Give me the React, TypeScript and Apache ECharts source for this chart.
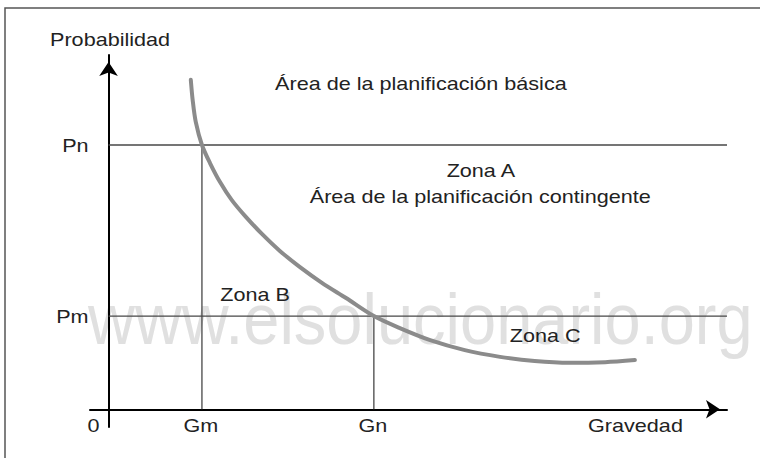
import React, { useEffect, useRef } from "react";
import * as echarts from "echarts";

// Risk curve (gravedad → probabilidad), abstract units 0..100
const curveX = [13.3, 13.6, 14.1, 15.1, 16.4, 18.0, 19.9, 22.2, 24.8, 27.7, 30.9, 34.5, 38.4, 42.9, 47.1, 52.0, 57.6, 63.3, 68.9, 74.6, 80.3, 85.1];
const curveY = [93.0, 87.3, 81.1, 74.6, 69.5, 64.2, 59.1, 54.3, 49.5, 44.7, 40.2, 35.7, 31.4, 26.3, 22.9, 19.5, 16.7, 14.8, 13.6, 13.1, 13.3, 13.9];

// Probability levels (y) and severity levels (x)
const levelNames = ["Pn", "Pm"];
const levelValues = [74.6, 26.3];
const severityNames = ["Gm", "Gn"];
const severityValues = [15.1, 42.9];

// Zone annotations (centre x, baseline y in data units)
const zoneTexts = [
  "Área de la planificación básica",
  "Zona A",
  "Área de la planificación contingente",
  "Zona B",
  "Zona C",
];
const zoneX = [50.5, 60.2, 60.1, 23.7, 70.6];
const zoneY = [90.1, 65.6, 58.2, 30.6, 18.9];

const xAxisTitle = "Gravedad";
const xAxisTitleAt = 85.2;
const yAxisTitle = "Probabilidad";
const originLabel = "0";
const watermark = "www.elsolucionario.org";

const FONT = "'Liberation Sans', Arial, Helvetica, sans-serif";
const FS = 18;
const SX = 1.2;

export default function App() {
  const ref = useRef<HTMLDivElement>(null);

  useEffect(() => {
    if (!ref.current) return;
    const chart = echarts.init(ref.current, undefined, { renderer: "svg" });

    const refLineStyle = { color: "#474747", width: 1.3 };
    const series: any[] = [];
    levelValues.forEach((v, i) => {
      series.push({
        type: "line",
        name: levelNames[i],
        data: [
          [0, v],
          [100, v],
        ],
        symbol: "none",
        lineStyle: refLineStyle,
        z: 3,
        silent: true,
      });
    });
    severityValues.forEach((v, i) => {
      series.push({
        type: "line",
        name: severityNames[i],
        data: [
          [v, 0],
          [v, levelValues[i]],
        ],
        symbol: "none",
        lineStyle: refLineStyle,
        z: 3,
        silent: true,
      });
    });
    series.push({
      type: "line",
      name: "curva",
      data: curveX.map((x, i) => [x, curveY[i]]),
      smooth: 0.3,
      symbol: "none",
      lineStyle: { color: "#8b8b8b", width: 4, cap: "round" },
      z: 4,
      silent: true,
    });

    const axisCommon = {
      type: "value",
      axisLine: {
        show: true,
        onZero: true,
        symbol: ["none", "arrow"],
        symbolSize: [14, 14],
        symbolOffset: [0, -7],
        lineStyle: { color: "#000", width: 2 },
      },
      axisTick: { show: false },
      axisLabel: { show: false },
      splitLine: { show: false },
    };

    chart.setOption({
      animation: false,
      backgroundColor: "#fff",
      grid: { left: 90, right: 33, top: 55, bottom: 31 },
      xAxis: { ...axisCommon, min: -3, max: 100 },
      yAxis: { ...axisCommon, min: -5, max: 100 },
      series,
    });

    const px = (x: number, y: number) =>
      chart.convertToPixel({ gridIndex: 0 }, [x, y]) as number[];
    const mid = (baseline: number, fs = FS) => baseline - 0.347 * fs;

    const txt = (
      text: string,
      x: number,
      baseline: number,
      align: string = "center"
    ) => ({
      type: "text",
      x,
      y: mid(baseline),
      scaleX: SX,
      z: 20,
      silent: true,
      style: {
        text,
        fontFamily: FONT,
        fontSize: FS,
        fill: "#222",
        align,
        verticalAlign: "middle",
      },
    });

    const origin = px(0, 0);
    const top = px(0, 100);
    const graphics: any[] = [];

    // frame
    graphics.push({
      type: "rect",
      shape: { x: 5, y: 8, width: 780, height: 480 },
      style: { fill: "none", stroke: "#555", lineWidth: 1.5 },
      z: 1,
      silent: true,
    });
    // watermark
    graphics.push({
      type: "text",
      x: 88,
      y: 344 - 0.347 * 65 * 1.12,
      scaleY: 1.12,
      z: 0,
      silent: true,
      style: {
        text: watermark,
        fontFamily: FONT,
        fontSize: 65,
        fill: "#e0e0e0",
        align: "left",
        verticalAlign: "middle",
      },
    });

    zoneTexts.forEach((t, i) => {
      const p = px(zoneX[i], zoneY[i]);
      graphics.push(txt(t, p[0], p[1]));
    });
    levelValues.forEach((v, i) => {
      const p = px(0, v);
      graphics.push(txt(levelNames[i], p[0] - 20, p[1] + 7, "right"));
    });
    severityValues.forEach((v, i) => {
      const p = px(v, 0);
      graphics.push(txt(severityNames[i], p[0] - 1, origin[1] + 23));
    });
    graphics.push(txt(originLabel, origin[0] - 15, origin[1] + 23));
    const g = px(xAxisTitleAt, 0);
    graphics.push(txt(xAxisTitle, g[0], origin[1] + 23));
    graphics.push(txt(yAxisTitle, top[0] + 1.5, top[1] - 9));

    chart.setOption({ graphic: graphics });

    return () => chart.dispose();
  }, []);

  return (
    <div
      ref={ref}
      style={{ position: "absolute", left: 0, top: 0, width: 760, height: 458 }}
    />
  );
}
